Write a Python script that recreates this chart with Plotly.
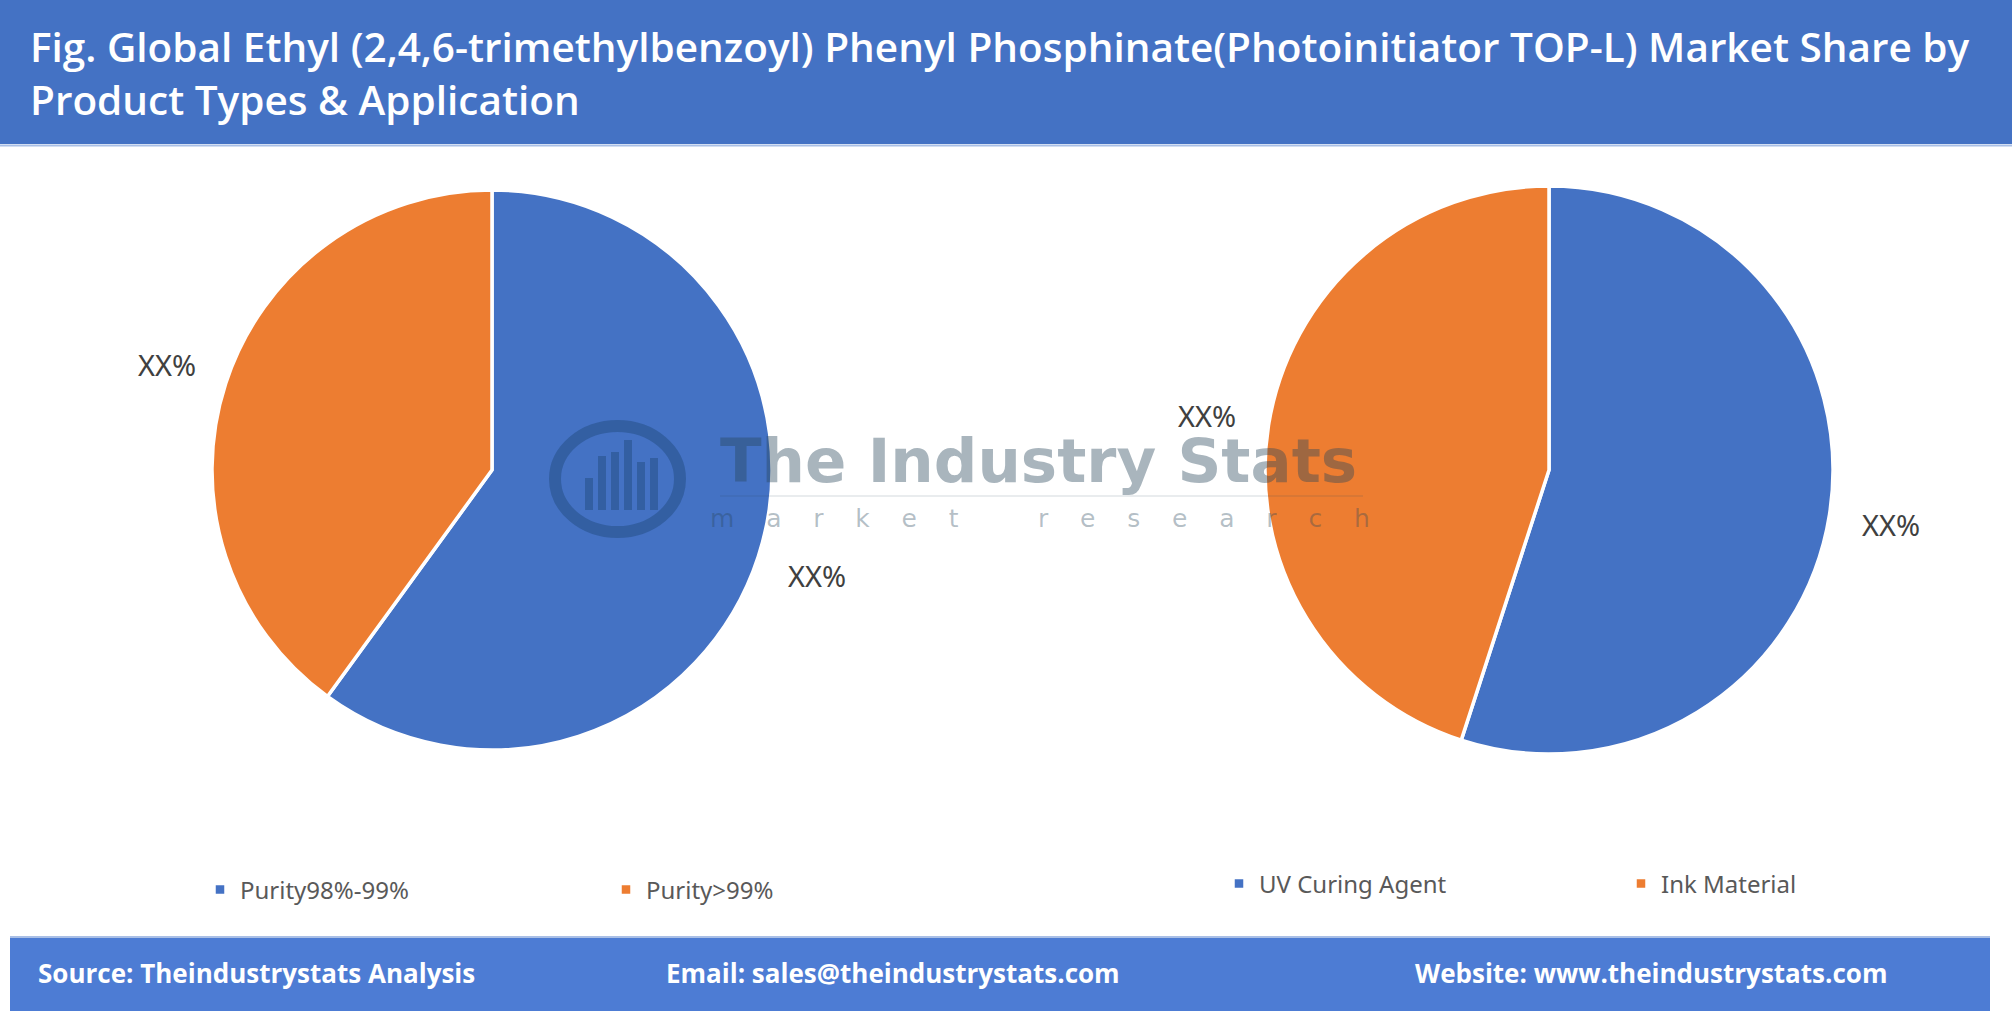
import math
import plotly.graph_objects as go

# ---------------- data ----------------
type_labels = ["Purity98%-99%", "Purity>99%"]
type_values = [60, 40]
app_labels = ["UV Curing Agent", "Ink Material"]
app_values = [55, 45]
slice_text = ["XX%", "XX%"]
colors = ["#4472C4", "#ED7D31"]

title_text = ("Fig. Global Ethyl (2,4,6-trimethylbenzoyl) Phenyl Phosphinate(Photoinitiator TOP-L) Market Share by"
              "<br>Product Types & Application")
footer_items = ["Source: Theindustrystats Analysis", "Email: sales@theindustrystats.com",
                "Website: www.theindustrystats.com"]

# ---------------- layout constants ----------------
W, H = 2012, 1014
radii = [280, 284]
centers = [(492, 470), (1549, 470)]


def dom(cx, cy, r):
    return dict(x=[(cx - r) / W, (cx + r) / W], y=[1 - (cy + r) / H, 1 - (cy - r) / H])


fig = go.Figure()
for i, (labels, values, leg) in enumerate([(type_labels, type_values, "legend"),
                                           (app_labels, app_values, "legend2")]):
    cx, cy = centers[i]
    fig.add_trace(go.Pie(
        labels=labels, values=values, sort=False, direction="clockwise", rotation=0,
        marker=dict(colors=colors, line=dict(color="white", width=3.5)),
        textinfo="none", hoverinfo="label+percent", domain=dom(cx, cy, radii[i]),
        legend=leg, showlegend=True,
    ))

annotations = []
# slice labels placed at mid-angle outside the pie
for i, values in enumerate([type_values, app_values]):
    cx, cy = centers[i]
    R = radii[i]
    tot = sum(values)
    cum = 0
    for v, t in zip(values, slice_text):
        mid = (cum + v / 2) / tot * 2 * math.pi
        cum += v
        px = cx + 1.22 * R * math.sin(mid)
        py = cy - 1.22 * R * math.cos(mid)
        annotations.append(dict(x=px / W, y=1 - py / H, xref="paper", yref="paper", text=t,
                                showarrow=False, font=dict(family="Noto Sans", size=29, color="#404040"),
                                xanchor="center", yanchor="middle"))

# title
annotations.append(dict(x=28 / W, y=1 - 73 / H, xref="paper", yref="paper", text=title_text,
                        showarrow=False, align="left", xanchor="left", yanchor="middle",
                        font=dict(family="Open Sans", size=40.5, color="white", weight=600)))
# footer
for txt, x0 in zip(footer_items, [36, 664, 1413]):
    annotations.append(dict(x=x0 / W, y=1 - 973 / H, xref="paper", yref="paper", text=txt,
                            showarrow=False, xanchor="left", yanchor="middle",
                            font=dict(family="Open Sans", size=26, color="white", weight=700)))
# watermark
annotations.append(dict(x=1038 / W, y=1 - 460 / H, xref="paper", yref="paper", text="The Industry Stats",
                        showarrow=False, xanchor="center", yanchor="middle",
                        font=dict(family="DejaVu Sans", size=61, color="rgba(40,70,90,0.4)", weight=700)))
sp = "&nbsp;" * 4
annotations.append(dict(x=1040 / W, y=1 - 518 / H, xref="paper", yref="paper",
                        text=sp.join("market") + "&nbsp;" * 10 + sp.join("research"),
                        showarrow=False, xanchor="center", yanchor="middle",
                        font=dict(family="DejaVu Sans", size=25, color="rgba(40,70,90,0.35)")))

shapes = [
    # title band
    dict(type="rect", xref="paper", yref="paper", x0=0, x1=1, y0=1 - 144 / H, y1=1,
         fillcolor="#4472C4", line=dict(width=0), layer="below"),
    dict(type="line", xref="paper", yref="paper", x0=0, x1=1, y0=1 - 145.5 / H, y1=1 - 145.5 / H,
         line=dict(color="#A9BFE6", width=2), layer="below"),
    # footer band
    dict(type="rect", xref="paper", yref="paper", x0=10 / W, x1=1990 / W, y0=1 - 1011 / H, y1=1 - 938 / H,
         fillcolor="#4D7CD4", line=dict(width=0), layer="below"),
    dict(type="line", xref="paper", yref="paper", x0=10 / W, x1=1990 / W, y0=1 - 937 / H, y1=1 - 937 / H,
         line=dict(color="#A9BFE6", width=2), layer="below"),
    # watermark underline
    dict(type="line", xref="paper", yref="paper", x0=720 / W, x1=1363 / W, y0=1 - 496 / H, y1=1 - 496 / H,
         line=dict(color="rgba(40,70,90,0.10)", width=2), layer="above"),
    # watermark gear (simplified)
    dict(type="circle", xref="paper", yref="paper", x0=555 / W, x1=680 / W, y0=1 - 532 / H, y1=1 - 426 / H,
         line=dict(color="rgba(20,60,100,0.35)", width=12), fillcolor="rgba(0,0,0,0)", layer="above"),
]
for bx, bt in [(585, 478), (598, 456), (611, 452), (624, 440), (637, 462), (650, 458)]:
    shapes.append(dict(type="rect", xref="paper", yref="paper", x0=bx / W, x1=(bx + 8) / W,
                       y0=1 - 510 / H, y1=1 - bt / H, fillcolor="rgba(20,60,100,0.35)",
                       line=dict(width=0), layer="above"))

legend_font = dict(family="Noto Sans", size=24, color="#595959")
fig.update_layout(
    width=W, height=H, margin=dict(l=0, r=0, t=0, b=0, autoexpand=False),
    paper_bgcolor="white", plot_bgcolor="white",
    annotations=annotations, shapes=shapes,
    legend=dict(orientation="h", x=200 / W, y=1 - 890 / H, xanchor="left", yanchor="middle",
                entrywidth=361, entrywidthmode="pixels", font=legend_font, bgcolor="rgba(0,0,0,0)"),
    legend2=dict(orientation="h", x=1219 / W, y=1 - 884 / H, xanchor="left", yanchor="middle",
                 entrywidth=357, entrywidthmode="pixels", font=legend_font, bgcolor="rgba(0,0,0,0)"),
)

fig.write_html("out.html")
